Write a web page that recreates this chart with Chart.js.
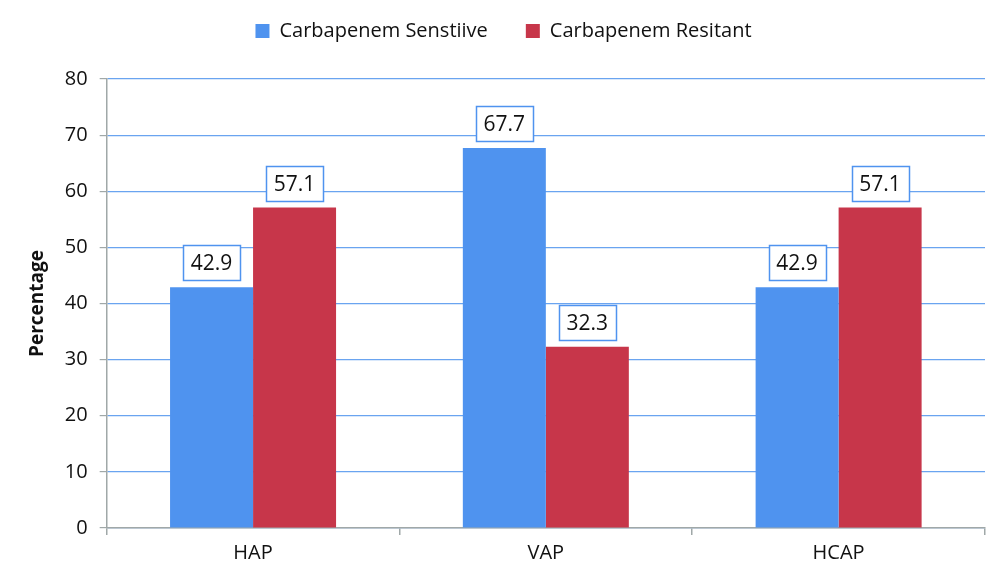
<!DOCTYPE html>
<html>
<head>
<meta charset="utf-8">
<script src="https://cdn.jsdelivr.net/npm/chart.js@4.4.0/dist/chart.umd.min.js"></script>
<style>
html,body{margin:0;padding:0;background:#fff;}
#wrap{width:1000px;height:585px;position:relative;}
</style>
</head>
<body>
<div id="wrap"><canvas id="c" width="1000" height="585"></canvas></div>
<script>
const categories = ["HAP", "VAP", "HCAP"];
const sensitive = [42.9, 67.7, 42.9];
const resistant = [57.1, 32.3, 57.1];
const seriesNames = ["Carbapenem Senstiive", "Carbapenem Resitant"];
const yTicks = [0, 10, 20, 30, 40, 50, 60, 70, 80];

const FONT = "'Open Sans', sans-serif";

const legendMargin = {
  id: 'legendMargin',
  beforeInit(chart) {
    const orig = chart.legend.fit;
    chart.legend.fit = function () {
      orig.call(this);
      this.height += 28;
    };
  }
};

const labelPlugin = {
  id: 'boxLabels',
  afterDatasetsDraw(chart) {
    const ctx = chart.ctx;
    ctx.save();
    ctx.font = "21px " + FONT;
    ctx.textAlign = 'center';
    ctx.textBaseline = 'middle';
    chart.data.datasets.forEach((ds, di) => {
      const meta = chart.getDatasetMeta(di);
      meta.data.forEach((bar, i) => {
        const txt = ds.data[i].toFixed(1);
        const w = 57, h = 35;
        const cx = bar.x, by = bar.y - 7;
        const x0 = Math.round(cx - w / 2) + 0.5, y0 = Math.round(by - h) + 0.5;
        ctx.fillStyle = '#ffffff';
        ctx.fillRect(x0, y0, w, h);
        ctx.strokeStyle = '#4f93ef';
        ctx.lineWidth = 1.5;
        ctx.strokeRect(x0, y0, w, h);
        ctx.fillStyle = '#111111';
        ctx.fillText(txt, cx, y0 + h / 2 + 1);
      });
    });
    ctx.restore();
  }
};

new Chart(document.getElementById('c'), {
  type: 'bar',
  data: {
    labels: categories,
    datasets: [
      { label: seriesNames[0], data: sensitive, backgroundColor: '#4f93ef', borderWidth: 0 },
      { label: seriesNames[1], data: resistant, backgroundColor: '#c7364a', borderWidth: 0 }
    ]
  },
  options: {
    responsive: false,
    animation: false,
    devicePixelRatio: 1,
    layout: { padding: { left: 22, right: 15, top: -17, bottom: 14 } },
    datasets: { bar: { categoryPercentage: 0.567, barPercentage: 1.0 } },
    plugins: {
      legend: {
        position: 'top',
        labels: {
          font: { family: FONT, size: 20 },
          color: '#111',
          boxWidth: 14, boxHeight: 14,
          padding: 38
        }
      },
      tooltip: { enabled: false }
    },
    scales: {
      x: {
        grid: { display: true, drawOnChartArea: false, drawTicks: true, tickLength: 7, offset: true, tickColor: '#a0a8a8', lineWidth: 1.5 },
        border: { color: '#a0a8a8', width: 1.5 },
        ticks: { font: { family: FONT, size: 20 }, color: '#111', padding: 6 }
      },
      y: {
        min: 0, max: 80,
        afterBuildTicks(axis) { axis.ticks = yTicks.map(v => ({ value: v })); },
        grid: { color: '#6aa4f0', lineWidth: 1.2, tickLength: 7, tickColor: '#a0a8a8', drawTicks: true },
        border: { color: '#a0a8a8', width: 1.5 },
        ticks: { font: { family: FONT, size: 20 }, color: '#111', padding: 12 },
        title: { display: true, text: 'Percentage', font: { family: FONT, size: 19, weight: 'bold' }, color: '#111', padding: { bottom: 4 } }
      }
    }
  },
  plugins: [legendMargin, labelPlugin]
});
</script>
</body>
</html>
